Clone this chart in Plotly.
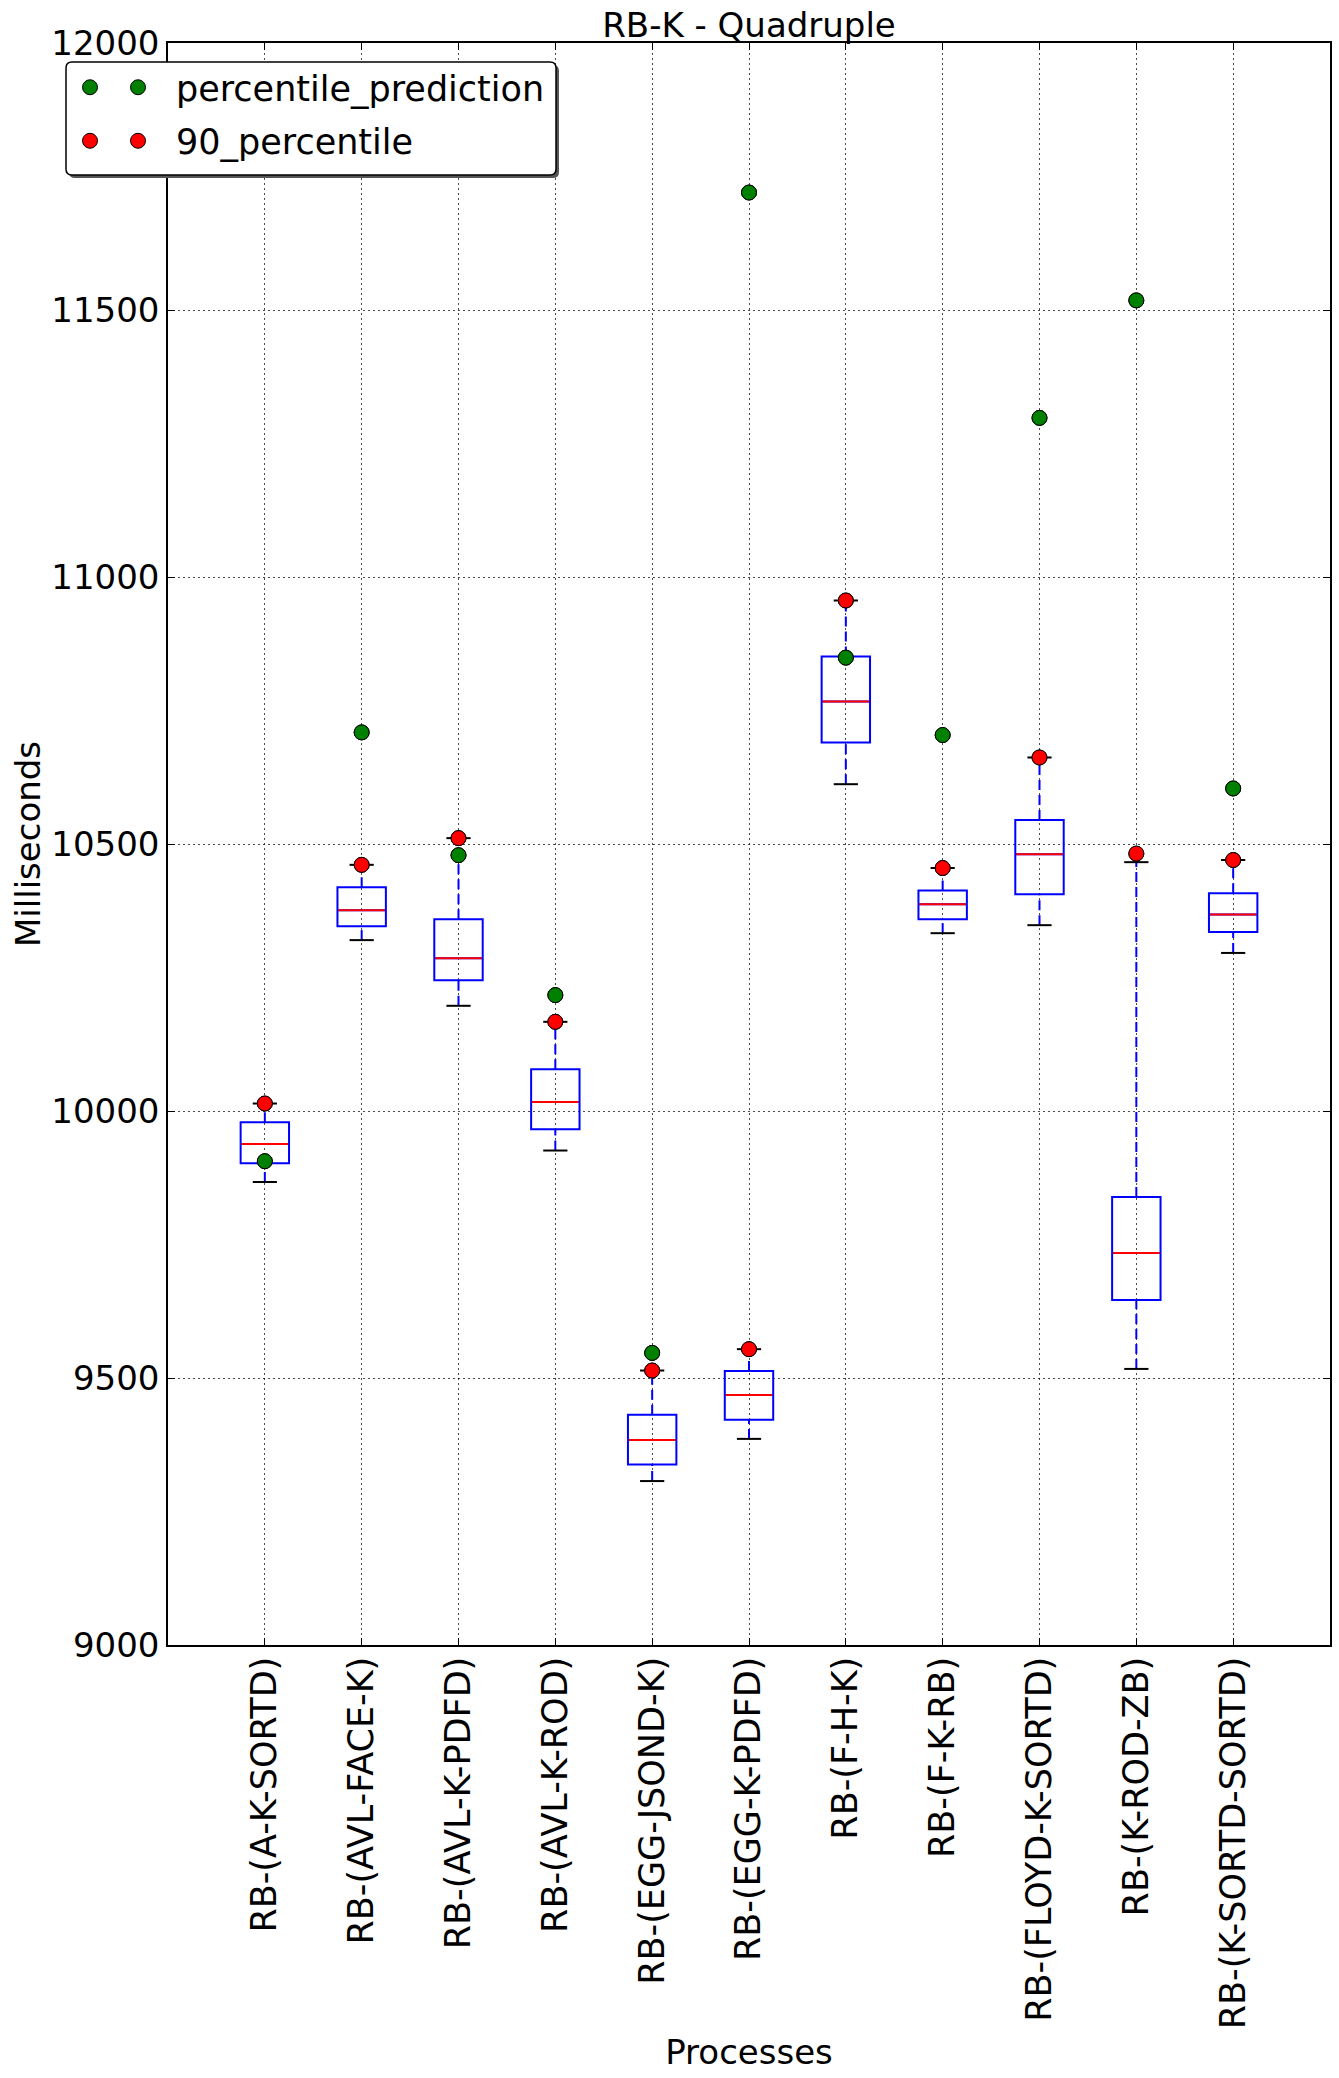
import plotly.graph_objects as go

labels = ["RB-(A-K-SORTD)", "RB-(AVL-FACE-K)", "RB-(AVL-K-PDFD)", "RB-(AVL-K-ROD)",
          "RB-(EGG-JSOND-K)", "RB-(EGG-K-PDFD)", "RB-(F-H-K)", "RB-(F-K-RB)",
          "RB-(FLOYD-K-SORTD)", "RB-(K-ROD-ZB)", "RB-(K-SORTD-SORTD)"]
lower_whisker = [9867, 10320, 10197, 9926, 9307, 9386, 10612, 10333, 10348, 9517, 10296]
q1 = [9902, 10346, 10245, 9966, 9338, 9422, 10690, 10359, 10406, 9646, 10335]
median = [9938, 10376, 10286, 10017, 9384, 9468, 10767, 10387, 10481, 9734, 10368]
q3 = [9979, 10419, 10359, 10078, 9431, 9513, 10851, 10413, 10545, 9839, 10408]
upper_whisker = [10014, 10461, 10511, 10167, 9514, 9554, 10956, 10455, 10662, 10466, 10470]
percentile_90 = [10014, 10461, 10511, 10167, 9514, 9554, 10956, 10455, 10662, 10482, 10470]
percentile_prediction = [9906, 10709, 10479, 10217, 9547, 11720, 10849, 10704, 11298, 11518, 10604]
y_ticks = [9000, 9500, 10000, 10500, 11000, 11500, 12000]

positions = list(range(1, len(labels) + 1))
FONT = "DejaVu Sans"
W, H = 1339, 2078
ML, MT = 168, 43
PW, PH = 1162, 1602
MR, MB = W - ML - PW, H - MT - PH
BOX_W = 0.5
CAP_W = 0.25

fig = go.Figure()

# whiskers (dashed blue)
wx, wy = [], []
for p, lo, a, b, hi in zip(positions, lower_whisker, q1, q3, upper_whisker):
    wx += [p, p, None, p, p, None]
    wy += [b, hi, None, lo, a, None]
fig.add_trace(go.Scatter(x=wx, y=wy, mode="lines",
                         line=dict(color="#0000ff", width=2, dash="10px,5px"),
                         showlegend=False, hoverinfo="skip"))

# caps (black)
cx, cy = [], []
for p, lo, hi in zip(positions, lower_whisker, upper_whisker):
    cx += [p - CAP_W / 2, p + CAP_W / 2, None, p - CAP_W / 2, p + CAP_W / 2, None]
    cy += [hi, hi, None, lo, lo, None]
fig.add_trace(go.Scatter(x=cx, y=cy, mode="lines",
                         line=dict(color="black", width=2),
                         showlegend=False, hoverinfo="skip"))

# boxes
fig.add_trace(go.Box(x=positions, q1=q1, median=median, q3=q3,
                     lowerfence=q1, upperfence=q3, width=BOX_W,
                     fillcolor="rgba(0,0,0,0)", line=dict(color="#0000ff", width=2),
                     boxpoints=False, showlegend=False, hoverinfo="skip"))

# medians (red)
mx, my = [], []
for p, m in zip(positions, median):
    mx += [p - BOX_W / 2 + 0.01, p + BOX_W / 2 - 0.01, None]
    my += [m, m, None]
fig.add_trace(go.Scatter(x=mx, y=my, mode="lines",
                         line=dict(color="#ff0000", width=2),
                         showlegend=False, hoverinfo="skip"))

# points
series = [("percentile_prediction", percentile_prediction, "#008000", "g1"),
          ("90_percentile", percentile_90, "#ff0000", "g2")]
for name, vals, col, grp in series:
    fig.add_trace(go.Scatter(x=positions, y=vals, mode="markers", name=name,
                             legendgroup=grp, legend="legend",
                             marker=dict(color=col, size=15, line=dict(color="black", width=1))))
for name, vals, col, grp in series:
    fig.add_trace(go.Scatter(x=positions, y=vals, mode="markers", name="",
                             legendgroup=grp + "b", legend="legend2",
                             marker=dict(color=col, size=15, line=dict(color="black", width=1))))


# helpers: page pixel -> paper fraction
def fx(px):
    return (px - ML) / PW


def fy(py):
    return 1 - (py - MT) / PH


def rounded(x0, y0, x1, y1, r=6):
    rx, ry = r / PW, r / PH
    X0, X1, Y0, Y1 = fx(x0), fx(x1), fy(y0), fy(y1)
    return (f"M {X0+rx},{Y0} L {X1-rx},{Y0} Q {X1},{Y0} {X1},{Y0-ry} "
            f"L {X1},{Y1+ry} Q {X1},{Y1} {X1-rx},{Y1} L {X0+rx},{Y1} "
            f"Q {X0},{Y1} {X0},{Y1+ry} L {X0},{Y0-ry} Q {X0},{Y0} {X0+rx},{Y0} Z")


LX0, LY0, LX1, LY1 = 66, 62, 556, 175
shapes = [
    dict(type="path", xref="paper", yref="paper", layer="above",
         path=rounded(LX0 + 3, LY0 + 3, LX1 + 3, LY1 + 3),
         fillcolor="#555555", line=dict(width=0)),
    dict(type="path", xref="paper", yref="paper", layer="above",
         path=rounded(LX0, LY0, LX1, LY1),
         fillcolor="white", line=dict(color="black", width=1.5)),
]

axis_common = dict(showline=True, linecolor="black", linewidth=1.5, mirror="ticks",
                   ticks="inside", ticklen=7, tickcolor="black", tickwidth=1.2,
                   showgrid=True, gridcolor="rgba(0,0,0,0.7)", gridwidth=1,
                   griddash="2px,3px", zeroline=False)

fig.update_layout(
    width=W, height=H,
    margin=dict(l=ML, r=MR, t=MT, b=MB, autoexpand=False),
    paper_bgcolor="white", plot_bgcolor="white",
    font=dict(family=FONT, size=34, color="black"),
    title=dict(text="RB-K - Quadruple", x=0.5, xref="paper", xanchor="center",
               y=1 - 25 / H, yref="container", yanchor="middle",
               font=dict(family=FONT, size=34, color="black")),
    xaxis=dict(range=[0, 12], tickmode="array", tickvals=positions, ticktext=labels,
               tickangle=-90, ticklabelstandoff=-4,
               tickfont=dict(family=FONT, size=35, color="black"),
               title=dict(text="Processes", standoff=12,
                          font=dict(family=FONT, size=34, color="black")),
               **axis_common),
    yaxis=dict(range=[9000, 12000], tickmode="array", tickvals=y_ticks,
               ticktext=[str(v) for v in y_ticks], ticklabelstandoff=0,
               tickfont=dict(family=FONT, size=34, color="black"),
               title=dict(text="Milliseconds", standoff=0,
                          font=dict(family=FONT, size=34, color="black")),
               **axis_common),
    legend=dict(x=fx(100), y=fy(LY0 - 4), xanchor="left", yanchor="top",
                bgcolor="rgba(0,0,0,0)", borderwidth=0, tracegroupgap=5, itemwidth=66,
                font=dict(family=FONT, size=35, color="black")),
    legend2=dict(x=fx(70), y=fy(LY0 - 4), xanchor="left", yanchor="top",
                 bgcolor="rgba(0,0,0,0)", borderwidth=0, tracegroupgap=5,
                 font=dict(family=FONT, size=35, color="black")),
    shapes=shapes,
    showlegend=True,
)

fig.write_html("out.html", config={"displayModeBar": False},
               post_script="document.body.style.margin='0px';")
